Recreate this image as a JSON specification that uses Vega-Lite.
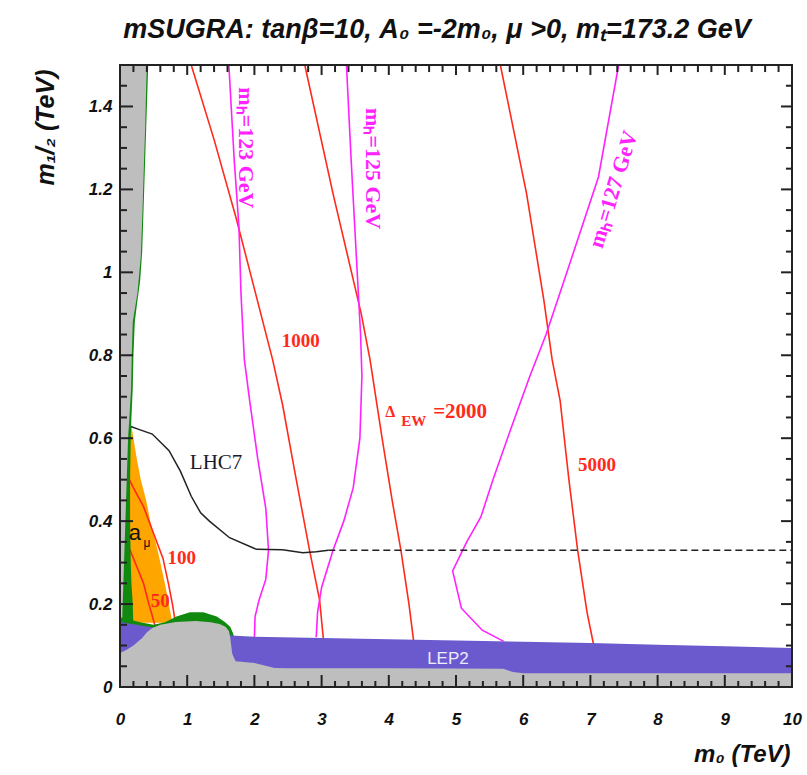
{
"$schema": "https://vega.github.io/schema/vega-lite/v6.json",
"width": 672, "height": 622,
"autosize": {"type": "none"},
"padding": {"left": 120, "top": 65, "right": 15, "bottom": 88},
"background": "white",
"title": {"text": "mSUGRA: tanβ=10, A₀ =-2m₀, μ >0, mₜ=173.2 GeV", "font": "Liberation Sans Narrow, Liberation Sans, sans-serif", "fontSize": 27, "fontWeight": "bold", "fontStyle": "italic", "anchor": "middle", "dx": -19, "offset": 20, "color": "#111"},
"config": {"view": {"stroke": "#222", "strokeWidth": 2}, "scale": {"continuousPadding": 0}, "axis": {"grid": false, "ticks": false, "domain": false, "labelOverlap": false, "labelBound": false}},
"datasets": {
"xmaj": [{"v":0},{"v":1},{"v":2},{"v":3},{"v":4},{"v":5},{"v":6},{"v":7},{"v":8},{"v":9},{"v":10}],
"xmin": [{"v":0.2},{"v":0.4},{"v":0.6},{"v":0.8},{"v":1.2},{"v":1.4},{"v":1.6},{"v":1.8},{"v":2.2},{"v":2.4},{"v":2.6},{"v":2.8},{"v":3.2},{"v":3.4},{"v":3.6},{"v":3.8},{"v":4.2},{"v":4.4},{"v":4.6},{"v":4.8},{"v":5.2},{"v":5.4},{"v":5.6},{"v":5.8},{"v":6.2},{"v":6.4},{"v":6.6},{"v":6.8},{"v":7.2},{"v":7.4},{"v":7.6},{"v":7.8},{"v":8.2},{"v":8.4},{"v":8.6},{"v":8.8},{"v":9.2},{"v":9.4},{"v":9.6},{"v":9.8}],
"ymaj": [{"v":0},{"v":0.2},{"v":0.4},{"v":0.6},{"v":0.8},{"v":1.0},{"v":1.2},{"v":1.4}],
"ymin": [{"v":0.05},{"v":0.1},{"v":0.15},{"v":0.25},{"v":0.3},{"v":0.35},{"v":0.45},{"v":0.5},{"v":0.55},{"v":0.65},{"v":0.7},{"v":0.75},{"v":0.85},{"v":0.9},{"v":0.95},{"v":1.05},{"v":1.1},{"v":1.15},{"v":1.25},{"v":1.3},{"v":1.35},{"v":1.45}],
"orange": [{"y":0.155,"xl":0.02,"xr":0.78},{"y":0.18,"xl":0.02,"xr":0.75},{"y":0.24,"xl":0.02,"xr":0.68},{"y":0.3,"xl":0.02,"xr":0.6},{"y":0.33,"xl":0.02,"xr":0.56},{"y":0.4,"xl":0.02,"xr":0.45},{"y":0.45,"xl":0.02,"xr":0.39},{"y":0.5,"xl":0.02,"xr":0.31},{"y":0.55,"xl":0.02,"xr":0.25},{"y":0.6,"xl":0.02,"xr":0.2},{"y":0.63,"xl":0.02,"xr":0.17}],
"gstrip": [{"y":0.14,"e":0.2},{"y":0.2,"e":0.19},{"y":0.25,"e":0.17},{"y":0.3,"e":0.16},{"y":0.4,"e":0.15},{"y":0.5,"e":0.15},{"y":0.6,"e":0.16},{"y":0.65,"e":0.17},{"y":0.72,"e":0.19},{"y":0.8,"e":0.2},{"y":0.88,"e":0.22},{"y":0.92,"e":0.25},{"y":0.98,"e":0.3},{"y":1.05,"e":0.33},{"y":1.15,"e":0.35},{"y":1.25,"e":0.37},{"y":1.35,"e":0.39},{"y":1.45,"e":0.41},{"y":1.5,"e":0.42}],
"grstrip": [{"y":0.15,"e":0.03},{"y":0.2,"e":0.04},{"y":0.3,"e":0.06},{"y":0.4,"e":0.08},{"y":0.5,"e":0.1},{"y":0.6,"e":0.12},{"y":0.65,"e":0.14},{"y":0.72,"e":0.165},{"y":0.8,"e":0.175},{"y":0.88,"e":0.19},{"y":0.95,"e":0.26},{"y":1.04,"e":0.31},{"y":1.15,"e":0.335},{"y":1.28,"e":0.36},{"y":1.35,"e":0.375},{"y":1.45,"e":0.39},{"y":1.5,"e":0.4}],
"gbump": [{"x":0,"t":0.168},{"x":0.15,"t":0.162},{"x":0.3,"t":0.156},{"x":0.5,"t":0.15},{"x":0.67,"t":0.156},{"x":0.84,"t":0.17},{"x":1.04,"t":0.18},{"x":1.24,"t":0.18},{"x":1.44,"t":0.17},{"x":1.56,"t":0.157},{"x":1.64,"t":0.145},{"x":1.68,"t":0.13},{"x":1.7,"t":0.12}],
"blue": [{"x":0,"t":0.157},{"x":0.25,"t":0.15},{"x":0.5,"t":0.143},{"x":0.8,"t":0.137},{"x":1.2,"t":0.13},{"x":1.65,"t":0.124},{"x":2,"t":0.121},{"x":3,"t":0.118},{"x":4,"t":0.115},{"x":5,"t":0.112},{"x":6,"t":0.109},{"x":7,"t":0.106},{"x":8,"t":0.102},{"x":9,"t":0.098},{"x":10,"t":0.094}],
"grey": [{"x":0,"t":0.082},{"x":0.1,"t":0.09},{"x":0.2,"t":0.1},{"x":0.33,"t":0.118},{"x":0.4,"t":0.132},{"x":0.48,"t":0.142},{"x":0.6,"t":0.15},{"x":0.83,"t":0.157},{"x":1.13,"t":0.159},{"x":1.35,"t":0.156},{"x":1.48,"t":0.152},{"x":1.57,"t":0.145},{"x":1.62,"t":0.135},{"x":1.64,"t":0.12},{"x":1.67,"t":0.08},{"x":1.72,"t":0.062},{"x":2.0,"t":0.058},{"x":2.3,"t":0.046},{"x":2.5,"t":0.045},{"x":4,"t":0.045},{"x":5.7,"t":0.044},{"x":5.85,"t":0.036},{"x":6.0,"t":0.033},{"x":10,"t":0.033}],
"red": [
{"g":"r50","o":1,"x":0.05,"y":0.36},{"g":"r50","o":2,"x":0.15,"y":0.33},{"g":"r50","o":3,"x":0.25,"y":0.29},{"g":"r50","o":4,"x":0.35,"y":0.25},{"g":"r50","o":5,"x":0.43,"y":0.2},{"g":"r50","o":6,"x":0.5,"y":0.16},{"g":"r50","o":7,"x":0.55,"y":0.13},
{"g":"r100","o":1,"x":0.08,"y":0.52},{"g":"r100","o":2,"x":0.2,"y":0.48},{"g":"r100","o":3,"x":0.35,"y":0.435},{"g":"r100","o":4,"x":0.5,"y":0.37},{"g":"r100","o":5,"x":0.64,"y":0.31},{"g":"r100","o":6,"x":0.72,"y":0.25},{"g":"r100","o":7,"x":0.78,"y":0.2},{"g":"r100","o":8,"x":0.83,"y":0.15},
{"g":"r1000","o":1,"x":1.06,"y":1.5},{"g":"r1000","o":2,"x":1.4,"y":1.32},{"g":"r1000","o":3,"x":1.73,"y":1.13},{"g":"r1000","o":4,"x":2.0,"y":0.96},{"g":"r1000","o":5,"x":2.27,"y":0.79},{"g":"r1000","o":6,"x":2.42,"y":0.68},{"g":"r1000","o":7,"x":2.6,"y":0.52},{"g":"r1000","o":8,"x":2.82,"y":0.33},{"g":"r1000","o":9,"x":2.97,"y":0.21},{"g":"r1000","o":10,"x":3.03,"y":0.11},
{"g":"r2000","o":1,"x":2.75,"y":1.5},{"g":"r2000","o":2,"x":3.17,"y":1.19},{"g":"r2000","o":3,"x":3.59,"y":0.9},{"g":"r2000","o":4,"x":3.72,"y":0.79},{"g":"r2000","o":5,"x":3.9,"y":0.6},{"g":"r2000","o":6,"x":4.05,"y":0.45},{"g":"r2000","o":7,"x":4.18,"y":0.33},{"g":"r2000","o":8,"x":4.3,"y":0.2},{"g":"r2000","o":9,"x":4.37,"y":0.11},
{"g":"r5000","o":1,"x":5.66,"y":1.5},{"g":"r5000","o":2,"x":6.05,"y":1.19},{"g":"r5000","o":3,"x":6.31,"y":0.93},{"g":"r5000","o":4,"x":6.43,"y":0.79},{"g":"r5000","o":5,"x":6.55,"y":0.69},{"g":"r5000","o":6,"x":6.68,"y":0.5},{"g":"r5000","o":7,"x":6.81,"y":0.33},{"g":"r5000","o":8,"x":6.95,"y":0.18},{"g":"r5000","o":9,"x":7.05,"y":0.1}],
"mag": [
{"g":"m123","o":1,"x":1.62,"y":1.5},{"g":"m123","o":2,"x":1.7,"y":1.27},{"g":"m123","o":3,"x":1.77,"y":1.11},{"g":"m123","o":4,"x":1.8,"y":0.95},{"g":"m123","o":5,"x":1.85,"y":0.79},{"g":"m123","o":6,"x":1.93,"y":0.69},{"g":"m123","o":7,"x":2.05,"y":0.55},{"g":"m123","o":8,"x":2.17,"y":0.43},{"g":"m123","o":9,"x":2.21,"y":0.33},{"g":"m123","o":10,"x":2.17,"y":0.26},{"g":"m123","o":11,"x":2.07,"y":0.21},{"g":"m123","o":12,"x":2.01,"y":0.17},{"g":"m123","o":13,"x":2.0,"y":0.12},
{"g":"m125","o":1,"x":3.37,"y":1.5},{"g":"m125","o":2,"x":3.44,"y":1.27},{"g":"m125","o":3,"x":3.52,"y":1.03},{"g":"m125","o":4,"x":3.58,"y":0.85},{"g":"m125","o":5,"x":3.6,"y":0.75},{"g":"m125","o":6,"x":3.57,"y":0.6},{"g":"m125","o":7,"x":3.47,"y":0.48},{"g":"m125","o":8,"x":3.33,"y":0.4},{"g":"m125","o":9,"x":3.17,"y":0.33},{"g":"m125","o":10,"x":3.0,"y":0.24},{"g":"m125","o":11,"x":2.94,"y":0.18},{"g":"m125","o":12,"x":2.92,"y":0.12},
{"g":"m127","o":1,"x":7.42,"y":1.5},{"g":"m127","o":2,"x":7.12,"y":1.23},{"g":"m127","o":3,"x":6.67,"y":1.01},{"g":"m127","o":4,"x":6.34,"y":0.85},{"g":"m127","o":5,"x":6.1,"y":0.75},{"g":"m127","o":6,"x":5.81,"y":0.62},{"g":"m127","o":7,"x":5.55,"y":0.5},{"g":"m127","o":8,"x":5.37,"y":0.41},{"g":"m127","o":9,"x":5.16,"y":0.35},{"g":"m127","o":10,"x":4.95,"y":0.28},{"g":"m127","o":11,"x":5.08,"y":0.19},{"g":"m127","o":12,"x":5.39,"y":0.137},{"g":"m127","o":13,"x":5.71,"y":0.11}],
"lhc": [{"o":1,"x":0.13,"y":0.63},{"o":2,"x":0.3,"y":0.62},{"o":3,"x":0.48,"y":0.61},{"o":4,"x":0.73,"y":0.57},{"o":5,"x":0.9,"y":0.52},{"o":6,"x":1.06,"y":0.46},{"o":7,"x":1.2,"y":0.42},{"o":8,"x":1.33,"y":0.4},{"o":9,"x":1.63,"y":0.36},{"o":10,"x":2.03,"y":0.332},{"o":11,"x":2.42,"y":0.331},{"o":12,"x":2.72,"y":0.324},{"o":13,"x":2.92,"y":0.326},{"o":14,"x":3.1,"y":0.33}],
"lhcd": [{"o":1,"x":3.1,"y":0.33},{"o":2,"x":10,"y":0.33}]
},
"layer": [
{"data": {"name": "orange"}, "mark": {"type": "area", "orient": "horizontal", "color": "#ffa500", "clip": true},
 "encoding": {
  "y": {"field": "y", "type": "quantitative", "scale": {"domain": [0, 1.5], "nice": false, "zero": false, "padding": 0},
        "axis": {"orient": "left", "values": [0,0.2,0.4,0.6,0.8,1,1.2,1.4], "format": "~g",
                 "labelPadding": 8, "labelFont": "Liberation Sans", "labelFontSize": 17, "labelFontWeight": "bold", "labelFontStyle": "italic", "labelColor": "#111",
                 "title": "m₁/₂ (TeV)", "titleFont": "Liberation Sans", "titleFontSize": 25, "titleFontWeight": "bold", "titleFontStyle": "italic", "titleColor": "#111", "titleAngle": -90, "titleX": -75, "titleY": 4, "titleAlign": "right", "titleBaseline": "middle"}},
  "x": {"field": "xr", "type": "quantitative", "scale": {"domain": [0, 10], "nice": false, "zero": false, "padding": 0},
        "axis": {"orient": "bottom", "values": [0,1,2,3,4,5,6,7,8,9,10], "format": "~g",
                 "labelPadding": 24, "labelFont": "Liberation Sans", "labelFontSize": 17, "labelFontWeight": "bold", "labelFontStyle": "italic", "labelColor": "#111", "labelFlush": false,
                 "title": "m₀ (TeV)", "titleFont": "Liberation Sans", "titleFontSize": 24, "titleFontWeight": "bold", "titleFontStyle": "italic", "titleColor": "#111", "titleX": 670, "titleY": 74, "titleAlign": "right", "titleBaseline": "alphabetic"}},
  "x2": {"field": "xl"}}},
{"data": {"name": "red"}, "mark": {"type": "line", "color": "#ff2a1a", "strokeWidth": 1.6, "clip": true},
 "encoding": {"x": {"field": "x", "type": "quantitative"}, "y": {"field": "y", "type": "quantitative"},
  "detail": {"field": "g"}, "order": {"field": "o", "type": "quantitative"}}},
{"data": {"name": "mag"}, "mark": {"type": "line", "color": "#ff22ff", "strokeWidth": 1.6, "clip": true},
 "encoding": {"x": {"field": "x", "type": "quantitative"}, "y": {"field": "y", "type": "quantitative"},
  "detail": {"field": "g"}, "order": {"field": "o", "type": "quantitative"}}},
{"data": {"name": "lhc"}, "mark": {"type": "line", "color": "#222", "strokeWidth": 1.5, "clip": true},
 "encoding": {"x": {"field": "x", "type": "quantitative"}, "y": {"field": "y", "type": "quantitative"}, "order": {"field": "o", "type": "quantitative"}}},
{"data": {"name": "lhcd"}, "mark": {"type": "line", "color": "#222", "strokeWidth": 1.5, "strokeDash": [7, 4], "clip": true},
 "encoding": {"x": {"field": "x", "type": "quantitative"}, "y": {"field": "y", "type": "quantitative"}, "order": {"field": "o", "type": "quantitative"}}},
{"data": {"name": "gstrip"}, "mark": {"type": "area", "orient": "horizontal", "color": "#0f8a0f", "clip": true},
 "encoding": {"y": {"field": "y", "type": "quantitative"}, "x": {"field": "e", "type": "quantitative"}, "x2": {"datum": 0}}},
{"data": {"name": "grstrip"}, "mark": {"type": "area", "orient": "horizontal", "color": "#bebebe", "clip": true},
 "encoding": {"y": {"field": "y", "type": "quantitative"}, "x": {"field": "e", "type": "quantitative"}, "x2": {"datum": 0}}},
{"data": {"name": "gbump"}, "mark": {"type": "area", "color": "#0f8a0f", "clip": true},
 "encoding": {"x": {"field": "x", "type": "quantitative"}, "y": {"field": "t", "type": "quantitative"}, "y2": {"datum": 0}}},
{"data": {"name": "blue"}, "mark": {"type": "area", "color": "#6a5acd", "clip": true},
 "encoding": {"x": {"field": "x", "type": "quantitative"}, "y": {"field": "t", "type": "quantitative"}, "y2": {"datum": 0}}},
{"data": {"name": "grey"}, "mark": {"type": "area", "color": "#bebebe", "clip": true},
 "encoding": {"x": {"field": "x", "type": "quantitative"}, "y": {"field": "t", "type": "quantitative"}, "y2": {"datum": 0}}},
{"data": {"name": "xmaj"}, "mark": {"type": "bar", "width": 2, "color": "#222", "clip": true},
 "encoding": {"x": {"field": "v", "type": "quantitative"}, "y": {"datum": 0}, "y2": {"datum": 0.029}}},
{"data": {"name": "xmin"}, "mark": {"type": "bar", "width": 2, "color": "#222", "clip": true},
 "encoding": {"x": {"field": "v", "type": "quantitative"}, "y": {"datum": 0}, "y2": {"datum": 0.0145}}},
{"data": {"name": "xmaj"}, "mark": {"type": "bar", "width": 2, "color": "#222", "clip": true},
 "encoding": {"x": {"field": "v", "type": "quantitative"}, "y": {"datum": 1.476}, "y2": {"datum": 1.5}}},
{"data": {"name": "xmin"}, "mark": {"type": "bar", "width": 2, "color": "#222", "clip": true},
 "encoding": {"x": {"field": "v", "type": "quantitative"}, "y": {"datum": 1.483}, "y2": {"datum": 1.5}}},
{"data": {"name": "ymaj"}, "mark": {"type": "rule", "color": "#222", "strokeWidth": 2},
 "encoding": {"y": {"field": "v", "type": "quantitative"}, "x": {"datum": 0}, "x2": {"datum": 0.194}}},
{"data": {"name": "ymin"}, "mark": {"type": "rule", "color": "#222", "strokeWidth": 2},
 "encoding": {"y": {"field": "v", "type": "quantitative"}, "x": {"datum": 0}, "x2": {"datum": 0.104}}},
{"data": {"name": "ymaj"}, "mark": {"type": "rule", "color": "#222", "strokeWidth": 2},
 "encoding": {"y": {"field": "v", "type": "quantitative"}, "x": {"datum": 9.836}, "x2": {"datum": 10}}},
{"data": {"name": "ymin"}, "mark": {"type": "rule", "color": "#222", "strokeWidth": 2},
 "encoding": {"y": {"field": "v", "type": "quantitative"}, "x": {"datum": 9.91}, "x2": {"datum": 10}}},
{"data": {"values": [{"x":2.69,"y":0.834,"t":"1000"},{"x":7.1,"y":0.535,"t":"5000"},{"x":0.92,"y":0.311,"t":"100"},{"x":0.6,"y":0.207,"t":"50"}]},
 "mark": {"type": "text", "font": "Liberation Serif", "fontSize": 19, "fontWeight": "bold", "color": "#ff2a1a", "baseline": "middle", "align": "center"},
 "encoding": {"x": {"field": "x", "type": "quantitative"}, "y": {"field": "y", "type": "quantitative"}, "text": {"field": "t"}}},
{"data": {"values": [{"x":4.02,"y":0.664,"t":"Δ"}]},
 "mark": {"type": "text", "font": "Liberation Serif", "fontSize": 16, "fontWeight": "bold", "color": "#ff2a1a", "baseline": "middle", "align": "center"},
 "encoding": {"x": {"field": "x", "type": "quantitative"}, "y": {"field": "y", "type": "quantitative"}, "text": {"field": "t"}}},
{"data": {"values": [{"x":4.66,"y":0.662,"t":"=2000"}]},
 "mark": {"type": "text", "font": "Liberation Serif", "fontSize": 21, "fontWeight": "bold", "color": "#ff2a1a", "baseline": "middle", "align": "left"},
 "encoding": {"x": {"field": "x", "type": "quantitative"}, "y": {"field": "y", "type": "quantitative"}, "text": {"field": "t"}}},
{"data": {"values": [{"x":4.37,"y":0.641,"t":"EW"}]},
 "mark": {"type": "text", "font": "Liberation Serif", "fontSize": 15, "fontWeight": "bold", "color": "#ff2a1a", "baseline": "middle", "align": "center"},
 "encoding": {"x": {"field": "x", "type": "quantitative"}, "y": {"field": "y", "type": "quantitative"}, "text": {"field": "t"}}},
{"data": {"values": [{"x":1.88,"y":1.3,"t":"mₕ=123 GeV"},{"x":3.76,"y":1.25,"t":"mₕ=125 GeV"}]},
 "mark": {"type": "text", "font": "Liberation Serif", "fontSize": 22, "fontWeight": "bold", "color": "#ff22ff", "baseline": "middle", "align": "center", "angle": 90},
 "encoding": {"x": {"field": "x", "type": "quantitative"}, "y": {"field": "y", "type": "quantitative"}, "text": {"field": "t"}}},
{"data": {"values": [{"x":7.34,"y":1.2,"t":"mₕ=127 GeV"}]},
 "mark": {"type": "text", "font": "Liberation Serif", "fontSize": 22, "fontWeight": "bold", "color": "#ff22ff", "baseline": "middle", "align": "center", "angle": -73},
 "encoding": {"x": {"field": "x", "type": "quantitative"}, "y": {"field": "y", "type": "quantitative"}, "text": {"field": "t"}}},
{"data": {"values": [{"x":1.43,"y":0.54,"t":"LHC7"}]},
 "mark": {"type": "text", "font": "Liberation Serif", "fontSize": 21, "color": "#1a1a2a", "baseline": "middle", "align": "center"},
 "encoding": {"x": {"field": "x", "type": "quantitative"}, "y": {"field": "y", "type": "quantitative"}, "text": {"field": "t"}}},
{"data": {"values": [{"x":0.22,"y":0.371,"t":"a"}]},
 "mark": {"type": "text", "font": "Liberation Sans", "fontSize": 22, "color": "#111", "baseline": "middle", "align": "center"},
 "encoding": {"x": {"field": "x", "type": "quantitative"}, "y": {"field": "y", "type": "quantitative"}, "text": {"field": "t"}}},
{"data": {"values": [{"x":0.4,"y":0.347,"t":"μ"}]},
 "mark": {"type": "text", "font": "Liberation Sans", "fontSize": 12, "color": "#111", "baseline": "middle", "align": "center"},
 "encoding": {"x": {"field": "x", "type": "quantitative"}, "y": {"field": "y", "type": "quantitative"}, "text": {"field": "t"}}},
{"data": {"values": [{"x":4.88,"y":0.068,"t":"LEP2"}]},
 "mark": {"type": "text", "font": "Liberation Sans", "fontSize": 17, "color": "#ececff", "baseline": "middle", "align": "center"},
 "encoding": {"x": {"field": "x", "type": "quantitative"}, "y": {"field": "y", "type": "quantitative"}, "text": {"field": "t"}}},
{"data": {"values": [{"a": 0}]}, "mark": {"type": "rect", "filled": false, "stroke": "#222", "strokeWidth": 2},
 "encoding": {"x": {"datum": 0}, "x2": {"datum": 10}, "y": {"datum": 0}, "y2": {"datum": 1.5}}}
]
}
